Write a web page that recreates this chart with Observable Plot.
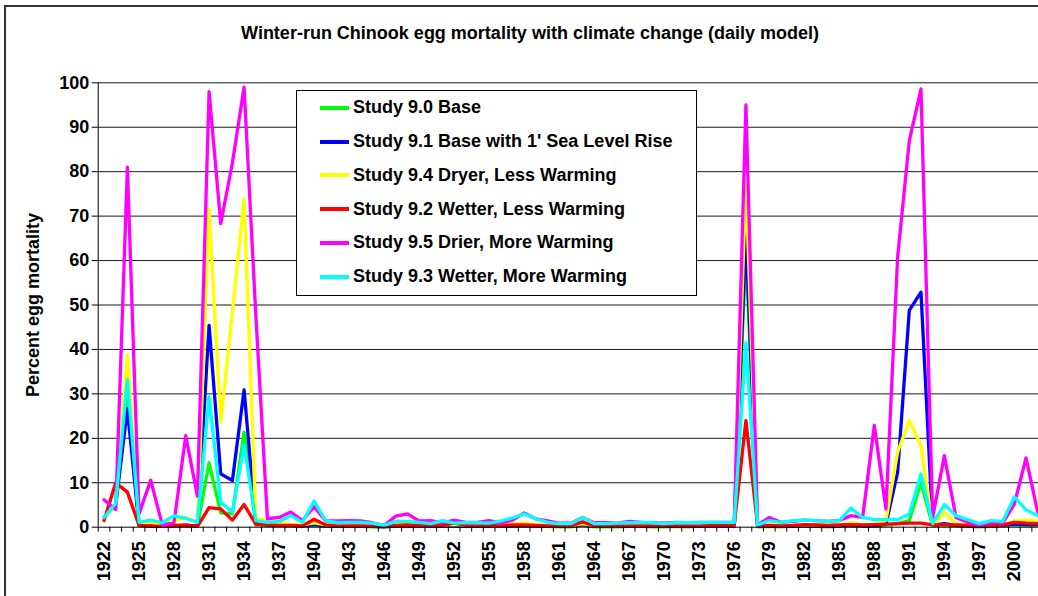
<!DOCTYPE html>
<html><head><meta charset="utf-8">
<script src="https://cdn.jsdelivr.net/npm/d3@7"></script>
<script src="https://cdn.jsdelivr.net/npm/@observablehq/plot@0.6"></script>
<style>
html,body{margin:0;padding:0;background:#fff;overflow:hidden;width:1038px;height:596px;}
#frame{position:absolute;left:4px;top:5px;width:1100px;height:700px;border-left:2px solid #333;border-top:2px solid #333;box-sizing:border-box;}
#title{position:absolute;left:0;top:23px;width:1060px;text-align:center;font:bold 18px "Liberation Sans",Arial,sans-serif;color:#000;}
#chart{position:absolute;left:0;top:60px;}
#legend{position:absolute;left:296px;top:90px;width:399px;height:204px;border:1px solid #000;background:#fff;font:bold 18px "Liberation Sans",Arial,sans-serif;color:#000;}
.row{position:absolute;left:0;height:20px;display:flex;align-items:center;white-space:nowrap;}
.sw{width:29px;height:4px;margin-left:23px;margin-right:4px;}
</style>
</head><body>
<div id="frame"></div>
<div id="title">Winter-run Chinook egg mortality with climate change (daily model)</div>
<div id="chart"></div>
<div id="legend"></div>
<script>
const years = d3.range(1922, 2003);
const labelYears = d3.range(1922, 2001, 3);
const yTicks = d3.range(0, 101, 10);

const seriesNames = [
  "Study 9.0 Base",
  "Study 9.1 Base with 1' Sea Level Rise",
  "Study 9.4 Dryer, Less Warming",
  "Study 9.2 Wetter, Less Warming",
  "Study 9.5 Drier, More Warming",
  "Study 9.3 Wetter, More Warming"
];

const s90 = [2.2,5.0,29,0.4,0.3,0.2,0.4,0.3,
  0.2,14.5,3.2,3.0,21.4,0.5,0.4,0.3,0.3,0.2,
  0.5,0.2,0.2,0.2,0.2,0.1,0.1,0.2,0.2,0.2,
  0.2,0.2,0.3,0.2,0.2,0.2,0.2,0.2,0.3,0.2,
  0.2,0.1,0.1,0.5,0.1,0.1,0.1,0.2,0.2,0.1,
  0.1,0.2,0.1,0.2,0.2,0.2,0.2,62,0.1,0.2,
  0.1,0.2,0.2,0.2,0.1,0.2,0.3,0.2,0.2,0.4,
  0.8,1.5,10.1,0.3,0.5,0.3,0.2,0.1,0.2,0.3,
  0.5,0.4,0.4];
const s91 = [2.2,5.0,26.6,0.4,0.3,0.2,0.3,0.4,
  0.3,45.4,12,10.5,30.9,0.8,0.5,0.4,0.4,0.3,
  0.6,0.3,0.2,0.2,0.2,0.2,0.1,0.3,0.3,0.2,
  0.2,0.3,0.3,0.2,0.2,0.2,0.2,0.3,0.4,0.3,
  0.2,0.2,0.2,0.6,0.2,0.2,0.2,0.2,0.2,0.2,
  0.2,0.2,0.2,0.2,0.2,0.2,0.2,66,0.2,0.3,
  0.2,0.2,0.3,0.3,0.2,0.3,0.5,0.3,0.3,0.7,
  12.4,48.8,52.9,0.4,0.8,0.4,0.3,0.2,0.3,0.4,
  0.7,0.6,0.6];
const s94 = [2.2,5.0,38.8,0.7,1.1,0.4,1.5,2.2,
  1.1,71.6,23.6,48.5,73.9,1.9,1.5,0.8,0.6,0.5,
  1.0,0.5,0.4,0.4,0.4,0.3,0.2,0.5,0.6,0.5,
  0.4,0.5,0.6,0.4,0.4,0.5,0.4,0.8,0.9,0.6,
  0.4,0.3,0.3,0.8,0.3,0.3,0.3,0.4,0.4,0.3,
  0.3,0.4,0.3,0.4,0.4,0.4,0.4,78,0.3,0.5,
  0.4,0.4,0.5,0.5,0.4,0.5,0.9,0.6,0.6,1.5,
  16.9,24,18.4,0.3,3.4,0.8,0.5,0.3,0.5,0.6,
  1.4,1.6,1.4];
const s92 = [1.5,10,7.9,0.4,0.3,0.2,0.4,0.5,
  0.2,4.4,4.1,1.6,5.1,0.7,0.5,0.4,0.4,0.3,
  1.8,0.5,0.3,0.3,0.3,0.3,0.2,0.4,0.5,0.4,
  0.3,0.4,0.9,0.4,0.3,0.4,0.3,0.5,0.5,0.4,
  0.3,0.3,0.3,1.2,0.3,0.3,0.3,0.3,0.3,0.3,
  0.3,0.3,0.3,0.3,0.4,0.4,0.4,24,0.3,0.4,
  0.3,0.4,0.6,0.5,0.4,0.5,0.6,0.5,0.6,0.7,
  0.8,0.9,0.9,0.5,0.6,0.5,0.4,0.3,0.5,0.5,
  1.1,0.9,0.8];
const s95 = [6.2,4.0,81,3.0,10.6,0.4,1.1,20.6,
  7.0,98,68.3,82,99,48,1.9,2.2,3.4,1.5,
  4.6,1.4,1.4,1.5,1.4,1.0,0.4,2.5,3.0,1.4,
  1.5,1.0,1.6,1.1,1.1,1.5,0.9,1.6,3.2,1.9,
  1.4,0.9,0.9,2.2,1.0,1.0,0.9,1.3,1.1,1.0,
  0.9,1.1,1.0,1.1,1.1,1.1,1.1,95,0.5,2.2,
  1.1,1.3,1.6,1.5,1.3,1.5,2.6,2.2,22.9,4.1,
  60.8,87,98.6,2.2,16.1,2.2,1.1,0.4,1.1,0.9,
  5.2,15.6,3.4];
const s93 = [2.2,5.4,33.2,1.1,1.6,1.0,2.6,2.0,
  1.1,29.3,5.6,3.4,18.5,1.5,1.1,1.3,2.6,1.1,
  5.9,1.4,1.0,1.1,1.1,0.9,0.4,1.3,1.3,1.1,
  0.8,1.5,0.9,1.0,1.0,0.9,1.4,2.1,3.0,1.9,
  1.1,0.8,0.8,2.2,0.8,0.8,0.9,1.0,1.1,1.0,
  0.8,1.0,1.0,1.0,1.1,1.1,1.1,41.5,0.5,1.5,
  1.1,1.5,1.6,1.5,1.3,1.5,4.3,2.2,1.7,1.7,
  1.7,3.0,12,0.8,5.1,2.6,1.7,0.8,1.5,1.3,
  6.8,3.9,2.6];

const seriesValues = [s90, s91, s94, s92, s95, s93];
const colors = ["#00ff00", "#0000ff", "#ffff00", "#ff0000", "#ff00ff", "#00ffff"];

const rows = [];
seriesValues.forEach((vals, k) => {
  years.forEach((yr, i) => rows.push({series: seriesNames[k], year: yr, value: vals[i]}));
});

const boundaries = d3.range(1921.5, 2002, 1);

const lineMarks = seriesNames.map((name, k) =>
  Plot.line(rows.filter(d => d.series === name), {
    x: "year", y: "value", stroke: colors[k], strokeWidth: 3.3,
    strokeLinejoin: "round", strokeLinecap: "round"
  })
);

const chart = Plot.plot({
  width: 1038,
  height: 536,
  marginLeft: 97.7,
  marginRight: 0,
  marginTop: 22.3,
  marginBottom: 69.3,
  style: {fontFamily: "'Liberation Sans', Arial, sans-serif", fontWeight: "bold", fontSize: "18px", color: "#000", background: "none", overflow: "visible"},
  x: {type: "linear", domain: [1921.5, 2002.07]},
  y: {domain: [0, 100]},
  marks: [
    Plot.gridY(d3.range(10, 101, 10), {stroke: "#000", strokeOpacity: 0.9, strokeWidth: 1}),
    ...lineMarks,
    Plot.ruleX([1921.5], {stroke: "#000", strokeWidth: 1}),
    Plot.ruleY([0], {stroke: "#000", strokeWidth: 1}),
    Plot.axisY(yTicks, {tickSize: 6, tickPadding: 3, fontSize: 18, fontWeight: "bold",
      label: "Percent egg mortality", labelAnchor: "center", labelOffset: 72, labelArrow: "none"}),
    Plot.axisX(boundaries, {tickSize: 5, tickFormat: () => "", label: null}),
    Plot.axisX(labelYears, {tickSize: 0, tickPadding: 14, tickRotate: -90, tickFormat: d => String(d),
      fontSize: 18, fontWeight: "bold", label: null})
  ]
});
document.getElementById("chart").appendChild(chart);

const legend = document.getElementById("legend");
seriesNames.forEach((name, k) => {
  const row = document.createElement("div");
  row.className = "row";
  row.style.top = (6.7 + 33.8 * k) + "px";
  const sw = document.createElement("div");
  sw.className = "sw";
  sw.style.background = colors[k];
  const tx = document.createElement("span");
  tx.textContent = name;
  row.appendChild(sw);
  row.appendChild(tx);
  legend.appendChild(row);
});
</script>
</body></html>
